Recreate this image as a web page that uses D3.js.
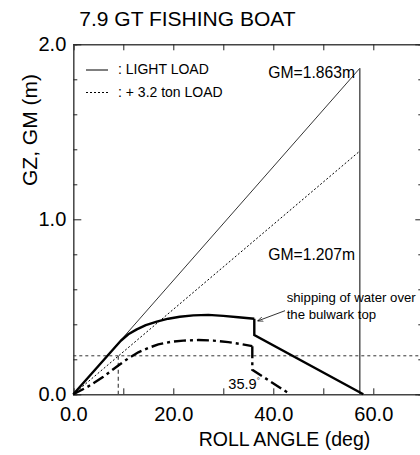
<!DOCTYPE html>
<html>
<head>
<meta charset="utf-8">
<script src="https://d3js.org/d3.v7.min.js"></script>
<style>
    body { margin:0; background:#fff; }
    svg text { font-family:"Liberation Sans", Arial, sans-serif; fill:#000; }
</style>
</head>
<body>
<div id="graphWrapper"></div>
<script>
//data
const lightAngle = [0, 9.5, 11, 12.7, 14.5, 16.7, 19, 21.3, 24, 27, 30, 33, 36.2];
const lightGZ    = [0, 0.306, 0.343, 0.371, 0.395, 0.415, 0.432, 0.443, 0.451, 0.454, 0.448, 0.440, 0.432];
const lightTailAngle = [36.2, 36.2, 58.0];   //after the bulwark top is under water
const lightTailGZ    = [0.432, 0.339, 0];

const heavyAngle = [0, 3, 6, 9, 11, 13, 15, 17, 19.5, 22, 25, 28, 31, 33.5, 35.8];
const heavyGZ    = [0, 0.045, 0.1, 0.165, 0.205, 0.24, 0.265, 0.285, 0.3, 0.307, 0.31, 0.307, 0.298, 0.287, 0.275];
const heavyTailAngle = [35.8, 35.8, 43.4];
const heavyTailGZ    = [0.275, 0.14, 0];

const gmAngle = [0, 57.3];       //1 radian
const gmLight = [0, 1.863];
const gmHeavy = [0, 1.39];

const criterionGZ = 0.22;
const criterionAngle = 9.0;

const xTicks = [0, 10, 20, 30, 40, 50, 60, 70];
const xLabels = [0, 20, 40, 60];
const yTicks = [0, 0.2, 0.4, 0.6, 0.8, 1.0, 1.2, 1.4, 1.6, 1.8, 2.0];
const yLabels = [0, 1, 2];

const CONSTANTS = {
    WIDTH:420,
    HEIGHT:455,
    LEFT:73.3,      //x of 0 deg
    RIGHT:423.3,    //x of 70 deg (just past the window)
    TOP:44.3,       //y of 2.0
    BOTTOM:394.3,   //y of 0.0
    AXIS_COLOR:'#444'
};

function main(){
    let svg = d3.select('#graphWrapper')
        .append('svg')
        .attr('width',CONSTANTS.WIDTH)
        .attr('height',CONSTANTS.HEIGHT);

    let scales = buildScales();
    buildAxis(svg,scales);
    buildLines(svg,scales);
    buildTexts(svg,scales);
}

function buildScales(){
    let x = d3.scaleLinear().domain([0,70]).range([CONSTANTS.LEFT,CONSTANTS.RIGHT]);
    let y = d3.scaleLinear().domain([0,2]).range([CONSTANTS.BOTTOM,CONSTANTS.TOP]);
    return {x:x,y:y};
}

function buildAxis(svg,scales){
    let fmt = d3.format('.1f');

    let bottom = svg.append('g')
        .attr('transform','translate(0,'+CONSTANTS.BOTTOM+')')
        .call(d3.axisBottom(scales.x)
            .tickValues(xTicks)
            .tickSize(-6)
            .tickPadding(13)
            .tickFormat(d => xLabels.includes(d) ? fmt(d) : ''));

    let top = svg.append('g')
        .attr('transform','translate(0,'+CONSTANTS.TOP+')')
        .call(d3.axisTop(scales.x).tickValues(xTicks).tickSize(-6).tickFormat(''));

    let left = svg.append('g')
        .attr('transform','translate('+CONSTANTS.LEFT+',0)')
        .call(d3.axisLeft(scales.y)
            .tickValues(yTicks)
            .tickSize(-4)
            .tickPadding(7)
            .tickFormat(d => yLabels.includes(Math.round(d*10)/10) ? fmt(d) : ''));

    let right = svg.append('g')
        .attr('transform','translate('+CONSTANTS.RIGHT+',0)')
        .call(d3.axisRight(scales.y).tickValues(yTicks).tickSize(-5).tickFormat(''));

    //longer ticks at the labelled values
    left.selectAll('.tick line').filter(d => yLabels.includes(Math.round(d*10)/10)).attr('x2',8);
    right.selectAll('.tick line').filter(d => yLabels.includes(Math.round(d*10)/10)).attr('x2',-8);

    [bottom,top,left,right].forEach(g => {
        g.select('.domain').attr('stroke',CONSTANTS.AXIS_COLOR).attr('stroke-width',1.5);
        g.selectAll('.tick line').attr('stroke','#222').attr('stroke-width',1);
        g.selectAll('.tick text')
            .style('font-family','"Liberation Sans", Arial, sans-serif')
            .style('font-size','20px')
            .attr('fill','#000');
    });
}

function makeLine(scales){
    return d3.line().x(d => scales.x(d[0])).y(d => scales.y(d[1]));
}

function buildLines(svg,scales){
    let line = makeLine(scales);
    let zip = (a,b) => a.map((v,i) => [v,b[i]]);

    //criterion dotted horizontal line
    svg.append('path')
        .attr('d',line([[0,criterionGZ],[70,criterionGZ]]))
        .attr('fill','none').attr('stroke','#333').attr('stroke-width',1)
        .attr('stroke-dasharray','3,3');

    //vertical dashed down to the axis
    svg.append('path')
        .attr('d',line([[criterionAngle,criterionGZ],[criterionAngle,0]]))
        .attr('fill','none').attr('stroke','#555').attr('stroke-width',1.3)
        .attr('stroke-dasharray','4,3');

    //GM lines
    svg.append('path')
        .attr('d',line(zip(gmAngle,gmLight)))
        .attr('fill','none').attr('stroke','#000').attr('stroke-width',0.8);

    svg.append('path')
        .attr('d',line(zip(gmAngle,gmHeavy)))
        .attr('fill','none').attr('stroke','#000').attr('stroke-width',1)
        .attr('stroke-dasharray','2,2');

    //vertical at 1 radian
    svg.append('path')
        .attr('d',line([[gmAngle[1],gmLight[1]],[gmAngle[1],0]]))
        .attr('fill','none').attr('stroke','#555').attr('stroke-width',1.5);

    //GZ light load
    svg.append('path')
        .attr('d',line(zip(lightAngle,lightGZ)))
        .attr('fill','none').attr('stroke','#000').attr('stroke-width',2.4)
        .attr('stroke-linejoin','round');
    svg.append('path')
        .attr('d',line(zip(lightTailAngle,lightTailGZ)))
        .attr('fill','none').attr('stroke','#000').attr('stroke-width',2.4);

    //GZ + 3.2 ton load
    svg.append('path')
        .attr('d',line(zip(heavyAngle,heavyGZ)))
        .attr('fill','none').attr('stroke','#000').attr('stroke-width',2.4)
        .attr('stroke-dasharray','12,4,3,4');
    svg.append('path')
        .attr('d',line(zip(heavyTailAngle,heavyTailGZ)))
        .attr('fill','none').attr('stroke','#000').attr('stroke-width',2.4)
        .attr('stroke-dasharray','12,4,3,4');

    //arrow to the bulwark point
    svg.append('defs').append('marker')
        .attr('id','arrow')
        .attr('viewBox','0 0 10 10')
        .attr('refX',10).attr('refY',5)
        .attr('markerWidth',7).attr('markerHeight',7)
        .attr('orient','auto')
        .append('path')
        .attr('d','M0,1 L10,5 L0,9')
        .attr('fill','none').attr('stroke','#000').attr('stroke-width',1.2);

    svg.append('line')
        .attr('x1',285).attr('y1',310.7)
        .attr('x2',257.5).attr('y2',321)
        .attr('stroke','#000').attr('stroke-width',0.8)
        .attr('marker-end','url(#arrow)');
}

function buildTexts(svg,scales){
    svg.append('text')
        .attr('x',79.3).attr('y',26)
        .style('font-size','21px')
        .text('7.9 GT FISHING BOAT');

    svg.append('text')
        .attr('transform','translate(37,130) rotate(-90)')
        .attr('text-anchor','middle')
        .style('font-size','21px')
        .text('GZ, GM (m)');

    svg.append('text')
        .attr('x',284.5).attr('y',446)
        .attr('text-anchor','middle')
        .style('font-size','19.5px')
        .text('ROLL ANGLE (deg)');

    //legend
    svg.append('line')
        .attr('x1',86).attr('x2',108).attr('y1',70).attr('y2',70)
        .attr('stroke','#000').attr('stroke-width',1);
    svg.append('text')
        .attr('x',118).attr('y',74)
        .style('font-size','14px')
        .text(': LIGHT LOAD');

    svg.append('line')
        .attr('x1',86).attr('x2',108).attr('y1',92.5).attr('y2',92.5)
        .attr('stroke','#000').attr('stroke-width',1)
        .attr('stroke-dasharray','2,2');
    svg.append('text')
        .attr('x',118).attr('y',96.5)
        .style('font-size','14px')
        .text(': + 3.2 ton LOAD');

    svg.append('text')
        .attr('x',268.3).attr('y',78)
        .style('font-size','15.7px')
        .text('GM=1.863m');

    svg.append('text')
        .attr('x',268.3).attr('y',260)
        .style('font-size','15.7px')
        .text('GM=1.207m');

    svg.append('text')
        .attr('x',286.7).attr('y',301.7)
        .style('font-size','13.2px')
        .text('shipping of water over');
    svg.append('text')
        .attr('x',286.7).attr('y',319.3)
        .style('font-size','13.2px')
        .text('the bulwark top');

    let angleLabel = svg.append('text')
        .attr('x',228.3).attr('y',389.3)
        .style('font-size','14.6px')
        .text('35.9');
    angleLabel.append('tspan')
        .attr('dy',-6)
        .style('font-size','8px')
        .text('°');
}

main();
</script>
</body>
</html>
